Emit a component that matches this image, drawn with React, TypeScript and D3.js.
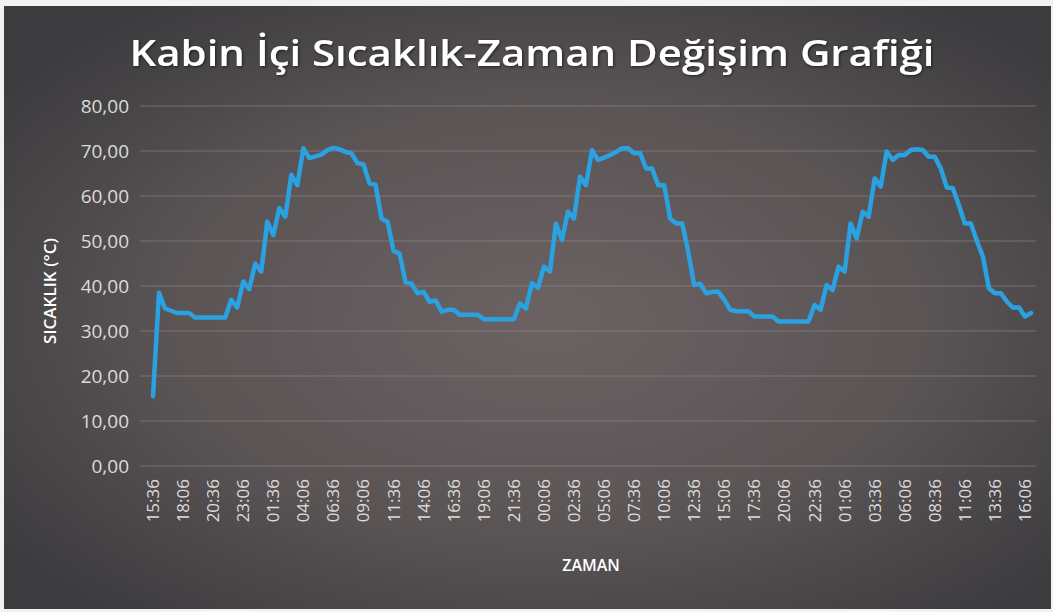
import React from "react";
import * as d3 from "d3";

// Temperature readings (°C), one every 30 minutes starting at 15:36
const temperatures: number[] = [
  15.5, 38.5, 35, 34.5, 34, 34, 34, 33, 33, 33,
  33, 33, 33, 36.9, 35.2, 41, 39.3, 45, 43.2, 54.3,
  51.3, 57.3, 55.4, 64.7, 62.4, 70.6, 68.4, 68.8, 69.2, 70.2,
  70.7, 70.4, 69.8, 69.5, 67.3, 67, 62.8, 62.5, 55, 54.3,
  47.8, 47.2, 40.8, 40.5, 38.4, 38.7, 36.5, 36.8, 34.3, 34.7,
  34.7, 33.6, 33.6, 33.6, 33.6, 32.6, 32.6, 32.6, 32.6, 32.6,
  32.6, 36.1, 35, 40.6, 39.6, 44.3, 43.2, 53.9, 50.2, 56.5,
  55, 64.3, 62.4, 70.2, 68, 68.5, 69.1, 69.8, 70.6, 70.6,
  69.5, 69.5, 66.1, 66.1, 62.4, 62.4, 55, 53.9, 53.9, 47.6,
  40.2, 40.5, 38.4, 38.7, 38.7, 36.9, 34.7, 34.4, 34.4, 34.4,
  33.2, 33.2, 33.2, 33.2, 32.1, 32.1, 32.1, 32.1, 32.1, 32.1,
  35.8, 34.7, 40.2, 39.1, 44.3, 43.2, 53.9, 50.6, 56.5, 55.4,
  63.9, 62.1, 69.9, 68, 69.1, 69.1, 70.2, 70.4, 70.2, 68.7,
  68.7, 66.1, 61.9, 61.7, 58, 53.9, 53.9, 50, 46.5, 39.5,
  38.4, 38.4, 36.5, 35.2, 35.2, 33.2, 34,
];

// Category labels shown on the axis (every 5th reading)
const timeLabels: string[] = [
  "15:36", "18:06", "20:36", "23:06", "01:36", "04:06", "06:36", "09:06",
  "11:36", "14:06", "16:36", "19:06", "21:36", "00:06", "02:36", "05:06",
  "07:36", "10:06", "12:36", "15:06", "17:36", "20:06", "22:36", "01:06",
  "03:36", "06:06", "08:36", "11:06", "13:36", "16:06",
];
const labelStep = 5;

const yTicks: number[] = [0, 10, 20, 30, 40, 50, 60, 70, 80];

const title = "Kabin İçi Sıcaklık-Zaman Değişim Grafiği";
const yTitle = "SICAKLIK (°C)";
const xTitle = "ZAMAN";

export default function App() {
  const W = 1053;
  const H = 612;
  const plotLeft = 140;
  const plotRight = 1036;

  const x = d3.scaleLinear().domain([0, 145]).range([153, 1025]);
  const y = d3.scaleLinear().domain([0, 80]).range([466, 106]);

  const line = d3
    .line<number>()
    .x((_, i) => x(i))
    .y((d) => y(d))
    .curve(d3.curveLinear);

  const fmt = (v: number) => v.toFixed(2).replace(".", ",");

  return (
    <svg
      width={W}
      height={H}
      style={{ position: "fixed", left: 0, top: 0 }}
      fontFamily="'Open Sans', 'Noto Sans', sans-serif"
    >
      <defs>
        <radialGradient id="bg" cx="52%" cy="52%" r="65%">
          <stop offset="0%" stopColor="#6c6264" />
          <stop offset="55%" stopColor="#5a5455" />
          <stop offset="100%" stopColor="#3c3b3e" />
        </radialGradient>
        <filter id="glow" x="-5%" y="-20%" width="110%" height="140%">
          <feGaussianBlur in="SourceAlpha" stdDeviation="1.5" />
          <feOffset dx="1" dy="1" result="b" />
          <feFlood floodColor="#000" floodOpacity="0.6" />
          <feComposite in2="b" operator="in" />
          <feMerge>
            <feMergeNode />
            <feMergeNode in="SourceGraphic" />
          </feMerge>
        </filter>
      </defs>
      <rect x={0} y={0} width={W} height={H} fill="#f2f2f2" />
      <rect x={4} y={6} width={W - 6} height={H - 9} fill="url(#bg)" />

      {/* Title */}
      <text
        x={532}
        y={66}
        textAnchor="middle"
        fill="#ffffff"
        fontSize={36}
        fontWeight={600}
        textLength={805}
        lengthAdjust="spacingAndGlyphs"
        filter="url(#glow)"
      >
        {title}
      </text>

      {/* Gridlines */}
      {yTicks.map((t) => (
        <line
          key={"g" + t}
          x1={plotLeft}
          x2={plotRight}
          y1={y(t)}
          y2={y(t)}
          stroke="#9a8e90"
          strokeOpacity={0.55}
          strokeWidth={1}
        />
      ))}

      {/* Y tick labels */}
      {yTicks.map((t) => (
        <text
          key={"yl" + t}
          x={129}
          y={y(t)}
          dy="0.35em"
          textAnchor="end"
          fill="#dcdcdc"
          fontSize={19}
        >
          {fmt(t)}
        </text>
      ))}

      {/* Y title */}
      <text
        transform={`translate(56,${291}) rotate(-90)`}
        textAnchor="middle"
        fill="#ffffff"
        fontSize={17}
        fontWeight={600}
      >
        {yTitle}
      </text>

      {/* X tick labels */}
      {timeLabels.map((lab, k) => {
        const xi = x(k * labelStep);
        return (
          <text
            key={"xl" + k}
            transform={`translate(${xi + 6},479) rotate(-90)`}
            textAnchor="end"
            fill="#dcdcdc"
            fontSize={17}
          >
            {lab}
          </text>
        );
      })}

      {/* X title */}
      <text
        x={591}
        y={571}
        textAnchor="middle"
        fill="#ffffff"
        fontSize={16}
        fontWeight={600}
      >
        {xTitle}
      </text>

      {/* Data line */}
      <path
        d={line(temperatures) ?? ""}
        fill="none"
        stroke="#2aa2e2"
        strokeWidth={4.5}
        strokeLinejoin="round"
        strokeLinecap="round"
      />
    </svg>
  );
}
